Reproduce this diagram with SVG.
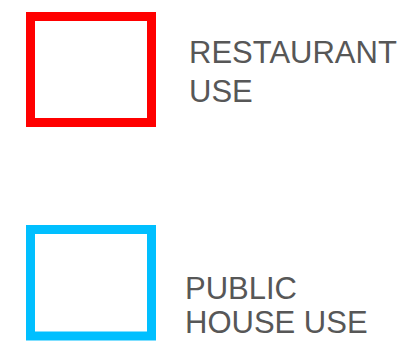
<svg xmlns="http://www.w3.org/2000/svg" width="408" height="352" viewBox="0 0 408 352">
<style>
.box{fill:none;stroke-width:9}
.lbl{font-family:"Liberation Sans",Arial,sans-serif;font-size:31px;fill:#575757}
</style>
<rect width="408" height="352" fill="#ffffff"/>
<g id="restaurant">
<rect class="box" x="30.5" y="16.5" width="121" height="106" stroke="#ff0000"/>
<text class="lbl" x="189" y="63">RESTAURANT</text>
<text class="lbl" x="189" y="101.5">USE</text>
</g>
<g id="public-house">
<rect class="box" x="30.5" y="229.5" width="121" height="106.5" stroke="#00bfff"/>
<text class="lbl" x="185" y="299">PUBLIC</text>
<text class="lbl" x="185" y="332.5">HOUSE USE</text>
</g>
<g id="connectors"/>
</svg>
